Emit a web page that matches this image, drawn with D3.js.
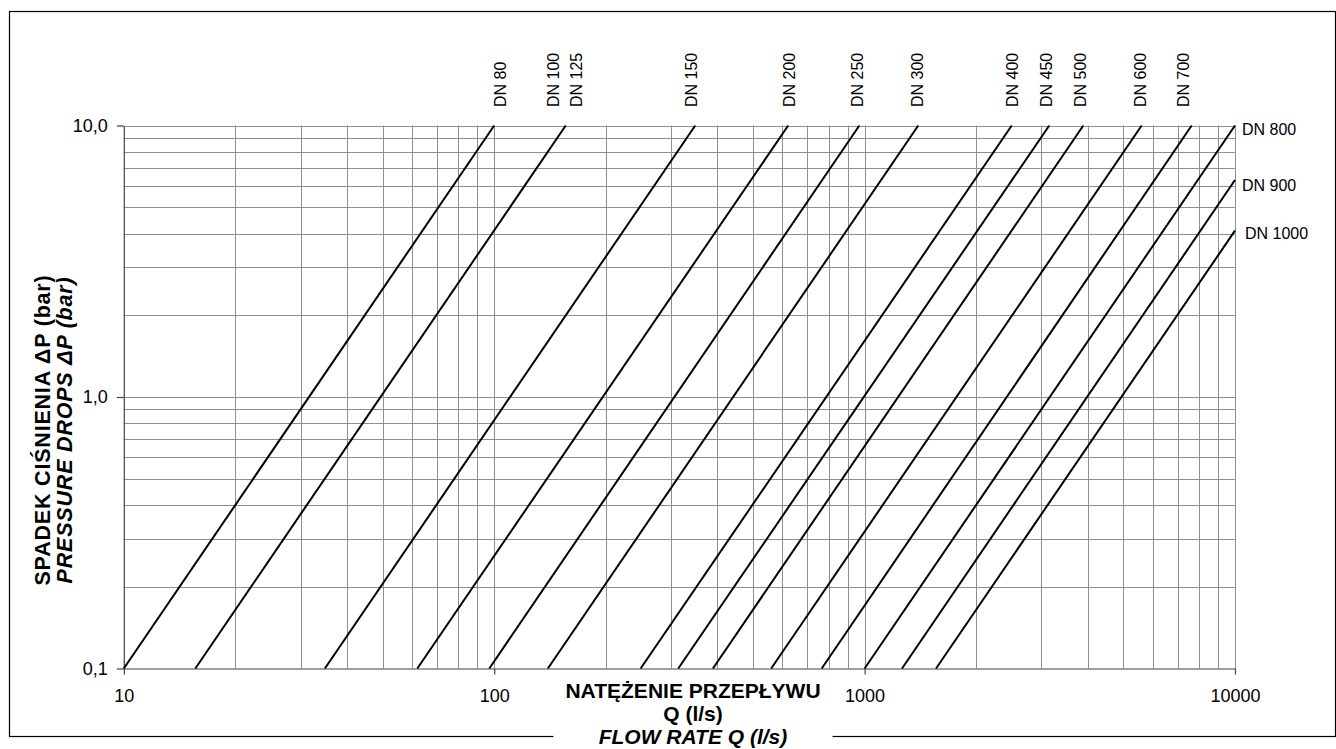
<!DOCTYPE html>
<html>
<head>
<meta charset="utf-8">
<script src="https://cdn.jsdelivr.net/npm/d3@7"></script>
<style>
  html, body { margin: 0; padding: 0; background: #fff; }
  svg { display: block; font-family: "Liberation Sans", Arial, sans-serif; }
</style>
</head>
<body>
<svg id="chart" width="1336" height="749"></svg>
<script>
// ---------------- DATA ----------------
// One line per valve size (DN 100 and DN 125 share one curve)
const lineNames = ["DN 80", "DN 100/125", "DN 150", "DN 200", "DN 250", "DN 300", "DN 400",
                   "DN 450", "DN 500", "DN 600", "DN 700", "DN 800", "DN 900", "DN 1000"];
// flow rate Q (l/s) where each line starts at ΔP = 0.1 bar
const qStart = [10, 15.6, 34.9, 62, 97, 139.6, 248.5, 314, 389.5, 559.5, 766, 1000, 1262, 1559];
const pStart = [0.1, 0.1, 0.1, 0.1, 0.1, 0.1, 0.1, 0.1, 0.1, 0.1, 0.1, 0.1, 0.1, 0.1];
// end point of each line (Q l/s, ΔP bar)
const qEnd = [100, 156, 349, 622, 968, 1396, 2496, 3152, 3895, 5598, 7640, 10000, 10000, 10000];
const pEnd = [10, 10, 10, 10, 10, 10, 10, 10, 10, 10, 10, 10, 6.3, 4.1];

// labels above the plot (rotated), placed at a flow rate
const topLabels = ["DN 80", "DN 100", "DN 125", "DN 150", "DN 200", "DN 250", "DN 300",
                   "DN 400", "DN 450", "DN 500", "DN 600", "DN 700"];
const topLabelQ = [104, 144.7, 166.4, 340, 625, 954, 1385, 2500, 3089, 3815, 5540, 7238];
// labels at right of the plot, placed at a pressure drop
const rightLabels = ["DN 800", "DN 900", "DN 1000"];
const rightLabelP = [9.7, 6.0, 4.02];

const xTicks = [10, 100, 1000, 10000];
const xTickLabels = ["10", "100", "1000", "10000"];
const yTicks = [0.1, 1, 10];
const yTickLabels = ["0,1", "1,0", "10,0"];

const yTitle1 = "SPADEK CIŚNIENIA ΔP (bar)";
const yTitle2 = "PRESSURE DROPS ΔP (bar)";
const xTitle1 = "NATĘŻENIE PRZEPŁYWU";
const xTitle2 = "Q (l/s)";
const xTitle3 = "FLOW RATE Q (l/s)";

// ---------------- LAYOUT ----------------
const svg = d3.select("#chart");
const plot = { left: 123.8, right: 1235, top: 125.5, bottom: 668.5 };

const x = d3.scaleLog().domain([10, 10000]).range([plot.left, plot.right]);
const y = d3.scaleLog().domain([0.1, 10]).range([plot.bottom, plot.top]);

// outer frame
svg.append("rect")
  .attr("x", 9.5).attr("y", 11.5)
  .attr("width", 1326).attr("height", 725)
  .attr("fill", "none").attr("stroke", "#000").attr("stroke-width", 1.2);

// grid
const gridColor = "#8f8f8f";
const grid = svg.append("g");
grid.selectAll("line.v")
  .data(x.ticks().filter(d => d > 10))
  .join("line")
  .attr("x1", d => Math.round(x(d)) + 0.5).attr("x2", d => Math.round(x(d)) + 0.5)
  .attr("y1", plot.top).attr("y2", plot.bottom)
  .attr("stroke", gridColor).attr("stroke-width", 1);
grid.selectAll("line.h")
  .data(y.ticks().filter(d => d > 0.1))
  .join("line")
  .attr("y1", d => Math.round(y(d)) + 0.5).attr("y2", d => Math.round(y(d)) + 0.5)
  .attr("x1", plot.left).attr("x2", plot.right)
  .attr("stroke", gridColor).attr("stroke-width", 1);

// axes
const fontTick = 18;
const axL = svg.append("g")
  .attr("transform", `translate(${plot.left},0)`)
  .call(d3.axisLeft(y).tickValues(yTicks).tickFormat((d, i) => yTickLabels[i])
        .tickSize(7).tickSizeOuter(0).tickPadding(9));
const axB = svg.append("g")
  .attr("transform", `translate(0,${plot.bottom})`)
  .call(d3.axisBottom(x).tickValues(xTicks).tickFormat((d, i) => xTickLabels[i])
        .tickSize(6).tickSizeOuter(0).tickPadding(15));
[axL, axB].forEach(a => {
  a.select(".domain").attr("stroke", "#444").attr("stroke-width", 1.2);
  a.selectAll(".tick line").attr("stroke", "#444").attr("stroke-width", 1.2);
  a.selectAll(".tick text")
    .attr("font-family", "'Liberation Sans', Arial, sans-serif")
    .attr("font-size", fontTick).attr("fill", "#000");
});

// curves
const lineGen = d3.line().x(d => x(d[0])).y(d => y(d[1]));
svg.append("g").selectAll("path")
  .data(lineNames.map((n, i) => [[qStart[i], pStart[i]], [qEnd[i], pEnd[i]]]))
  .join("path")
  .attr("d", lineGen)
  .attr("fill", "none").attr("stroke", "#000").attr("stroke-width", 2);

// top rotated labels
svg.append("g").selectAll("text")
  .data(topLabels)
  .join("text")
  .attr("transform", (d, i) => `translate(${x(topLabelQ[i])},107) rotate(-90)`)
  .attr("dy", "0.35em")
  .attr("font-size", 16).attr("fill", "#000")
  .text(d => d);

// right labels
svg.append("g").selectAll("text")
  .data(rightLabels)
  .join("text")
  .attr("x", (d, i) => plot.right + (i === 2 ? 10 : 7))
  .attr("y", (d, i) => y(rightLabelP[i]))
  .attr("dy", "0.35em")
  .attr("font-size", 16).attr("fill", "#000")
  .text(d => d);

// x title with white background box interrupting the frame
const xt = svg.append("g");
const xtBg = xt.append("rect").attr("fill", "#fff");
const cx = 693;
xt.append("text").attr("x", cx).attr("y", 698).attr("text-anchor", "middle")
  .attr("font-size", 21).attr("font-weight", "bold").text(xTitle1);
xt.append("text").attr("x", cx).attr("y", 721).attr("text-anchor", "middle")
  .attr("font-size", 21).attr("font-weight", "bold").text(xTitle2);
xt.append("text").attr("x", cx).attr("y", 744).attr("text-anchor", "middle")
  .attr("font-size", 21).attr("font-weight", "bold").attr("font-style", "italic").text(xTitle3);
const bb = xt.node().getBBox();
xtBg.attr("x", bb.x - 12).attr("y", bb.y).attr("width", bb.width + 24).attr("height", bb.height + 6);

// y title
const yt = svg.append("g").attr("transform", "translate(0,430)");
yt.append("text").attr("transform", "translate(50,0) rotate(-90)")
  .attr("text-anchor", "middle").attr("letter-spacing", 0.8)
  .attr("font-size", 21.5).attr("font-weight", "bold").text(yTitle1);
yt.append("text").attr("transform", "translate(72,0) rotate(-90)")
  .attr("text-anchor", "middle").attr("letter-spacing", 0.8)
  .attr("font-size", 21.5).attr("font-weight", "bold").attr("font-style", "italic").text(yTitle2);
</script>
</body>
</html>
